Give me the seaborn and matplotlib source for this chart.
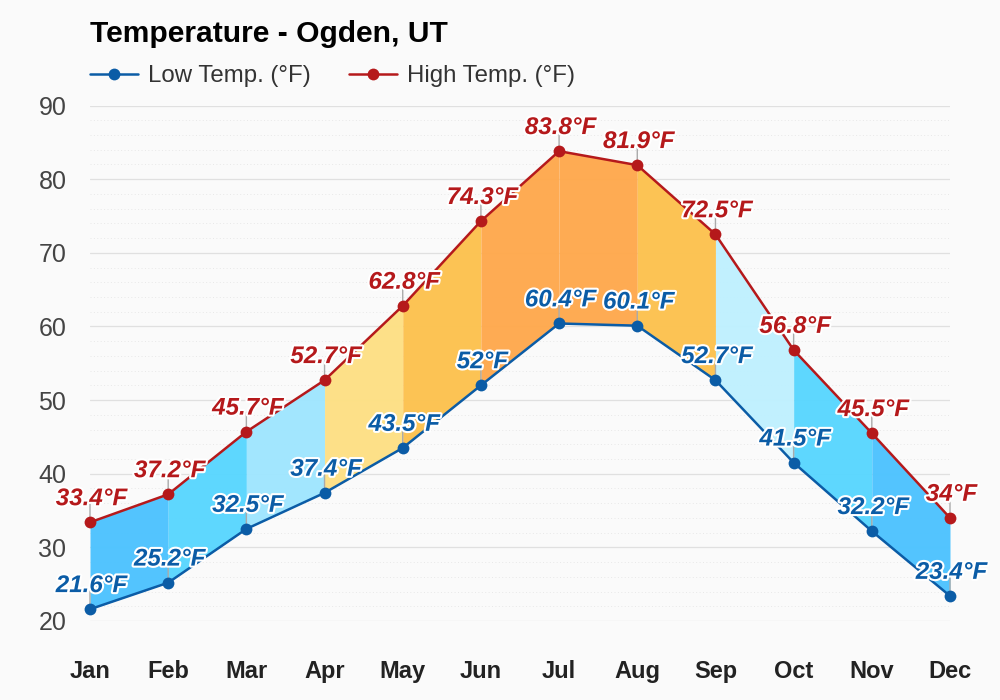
import numpy as np
import pandas as pd
import matplotlib
matplotlib.use("Agg")
import matplotlib.pyplot as plt
import matplotlib.patheffects as pe
import seaborn as sns

months = ["Jan", "Feb", "Mar", "Apr", "May", "Jun", "Jul", "Aug", "Sep", "Oct", "Nov", "Dec"]
low_temp = [21.6, 25.2, 32.5, 37.4, 43.5, 52, 60.4, 60.1, 52.7, 41.5, 32.2, 23.4]
high_temp = [33.4, 37.2, 45.7, 52.7, 62.8, 74.3, 83.8, 81.9, 72.5, 56.8, 45.5, 34]
low_name = "Low Temp. (°F)"
high_name = "High Temp. (°F)"
band_colors = ["#4dc3ff", "#59d6ff", "#9fe6ff", "#fee084", "#fdc24f", "#ffa94d",
               "#ffa94d", "#fdc24f", "#bff0ff", "#59d6ff", "#4dc3ff"]
LOW_C, HIGH_C = "#0b5ca6", "#b5191b"

sns.set_theme(style="white")
plt.rcParams["font.family"] = ["Liberation Sans", "DejaVu Sans"]
BG = "#fafafa"
fig = plt.figure(figsize=(10, 7), dpi=100, facecolor=BG)
ax = fig.add_axes([0.09, 1 - 621 / 700, 0.86, (621 - 105.5) / 700], facecolor=BG)

xs = np.arange(len(months))
df = pd.DataFrame({
    "x": np.tile(xs, 2),
    "temp": low_temp + high_temp,
    "series": [low_name] * 12 + [high_name] * 12,
})

# coloured bands between the two series
for i, c in enumerate(band_colors):
    ax.fill_between(xs[i:i + 2], low_temp[i:i + 2], high_temp[i:i + 2],
                    color=c, alpha=0.97, lw=0, zorder=1.5)

# grid
ax.set_ylim(20, 90)
ax.set_xlim(0, len(months) - 1)
ax.set_yticks(np.arange(20, 91, 10))
ax.set_yticks(np.arange(20, 90, 2), minor=True)
ax.grid(True, which="major", axis="y", color="#e0e0e0", lw=0.9, zorder=1)
ax.grid(True, which="minor", axis="y", color="#e8e8e8", lw=0.7, ls=(0, (1, 2.5)), zorder=1)
ax.set_axisbelow(True)

# leader ticks
for vals in (low_temp, high_temp):
    for x, v in zip(xs, vals):
        ax.annotate("", xy=(x, v), xytext=(0, 14), textcoords="offset points",
                    arrowprops=dict(arrowstyle="-", color="#aaaaaa", lw=1, shrinkA=0, shrinkB=0),
                    zorder=2.5)

sns.lineplot(data=df, x="x", y="temp", hue="series", hue_order=[low_name, high_name],
             palette=[LOW_C, HIGH_C], marker="o", markersize=8.5, markeredgewidth=0,
             lw=1.8, ax=ax, sort=False, zorder=3, clip_on=False, errorbar=None)

for s in ax.spines.values():
    s.set_visible(False)
ax.set_xlabel("")
ax.set_ylabel("")
ax.set_xticks(xs)
ax.set_xticklabels(months, fontsize=17, fontweight="bold", color="#222222")
ax.tick_params(axis="x", which="both", length=0, pad=28)
ax.tick_params(axis="y", which="both", length=0, pad=17)
for t in ax.get_yticklabels():
    t.set_fontsize(18)
    t.set_color("#444444")

# data labels
def fmt(v):
    return f"{v:g}°F"

for vals, col in ((low_temp, LOW_C), (high_temp, HIGH_C)):
    for x, v in zip(xs, vals):
        ax.annotate(fmt(v), xy=(x, v), xytext=(1, 17), textcoords="offset points",
                    ha="center", va="center", fontsize=17.4, fontweight="bold",
                    fontstyle="italic", color=col, zorder=5, annotation_clip=False,
                    path_effects=[pe.withStroke(linewidth=3, foreground="white")])

leg = ax.legend(loc="lower left", bbox_to_anchor=(0, 1.035), ncol=2, frameon=False,
                fontsize=17.3, borderaxespad=0, borderpad=0, handlelength=2.0,
                handletextpad=0.4, columnspacing=1.6, labelcolor="#333333")

fig.text(0.09, 1 - 33.5 / 700, "Temperature - Ogden, UT", fontsize=21.6, fontweight="bold",
         color="black", ha="left", va="center")

fig.savefig("out.png", dpi=100, facecolor=BG)
